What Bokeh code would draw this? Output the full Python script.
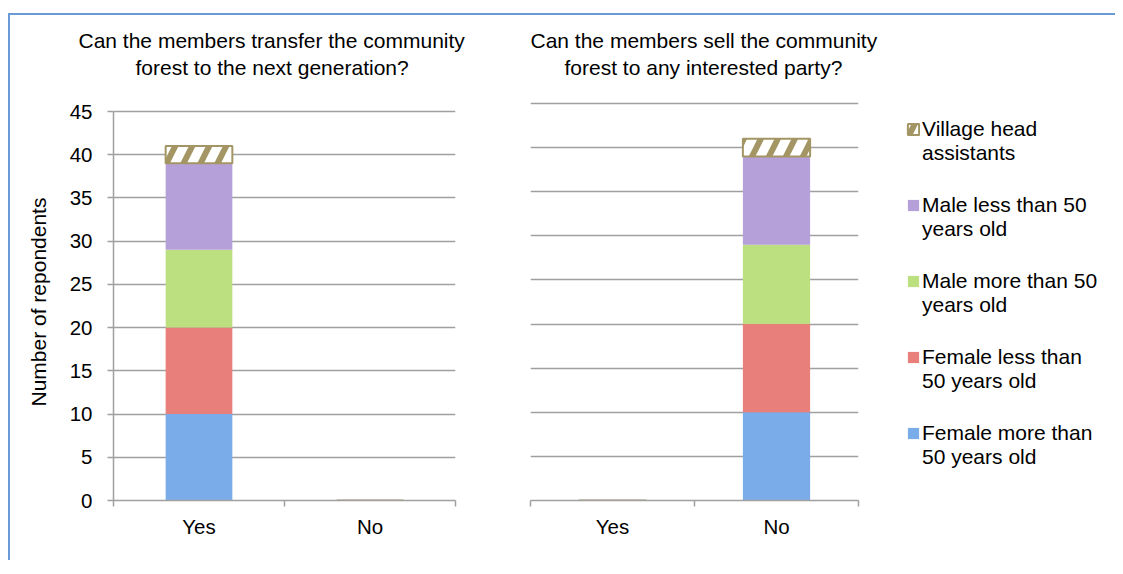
from bokeh.plotting import figure
from bokeh.layouts import row
from bokeh.models import (ColumnDataSource, Range1d, FixedTicker, Legend, LegendItem, Title)
from bokeh.embed import file_html
from bokeh.resources import INLINE

# ---------------- data ----------------
categories = ["Yes", "No"]
groups = ["Female more than 50 years old", "Female less than 50 years old",
          "Male more than 50 years old", "Male less than 50 years old",
          "Village head assistants"]
legend_labels = ["Female more than\n50 years old", "Female less than\n50 years old",
                 "Male more than 50\nyears old", "Male less than 50\nyears old",
                 "Village head\nassistants"]

# Q1: transfer to next generation
q1_female_more = [10, 0]
q1_female_less = [10, 0]
q1_male_more = [9, 0]
q1_male_less = [10, 0]
q1_village_head = [2, 0]

# Q2: sell to any interested party
q2_female_more = [0, 10]
q2_female_less = [0, 10]
q2_male_more = [0, 9]
q2_male_less = [0, 10]
q2_village_head = [0, 2]

title1_lines = ["Can the members transfer the community", "forest to the next generation?"]
title2_lines = ["Can the members sell the community", "forest to any interested party?"]
y_ticks = [0, 5, 10, 15, 20, 25, 30, 35, 40, 45]
y_label = "Number of repondents"

# ---------------- style ----------------
FONT = "Liberation Sans"
GRID = "#a0a0a0"
colors = ["#7aacea", "#e97f7a", "#bcdf7f", "#b6a0da", "white"]
line_colors = [None, None, None, None, "#a39664"]
line_widths = [0, 0, 0, 0, 2]
hatches = [" ", " ", " ", " ", "/"]
HATCH = "#a39664"
HSCALE = 34
HWEIGHT = 6

keys = ["fm", "fl", "mm", "ml", "vh"]

FRAME_PX = 420          # shared frame height (frames in a row are aligned)


def make_fig(values, title_lines, title_offsets, width, mb_left, mb_right, px_45, bar_w, show_y):
    x = [i + 0.5 for i in range(len(categories))]
    data = {"x": x}
    for k, v in zip(keys, values):
        data[k] = v
    src = ColumnDataSource(data)

    y_end = y_ticks[-1] * FRAME_PX / px_45
    p = figure(width=width, height=545, output_backend="svg",
               toolbar_location=None, x_range=Range1d(0, len(categories)),
               y_range=Range1d(0, y_end), min_border_left=mb_left,
               min_border_right=mb_right, min_border_top=65,
               min_border_bottom=60)
    p.outline_line_color = None
    p.title = None

    p.vbar_stack(keys, x="x", width=bar_w, source=src,
                 fill_color=colors, line_color=line_colors, line_width=line_widths,
                 hatch_pattern=hatches, hatch_color=HATCH, hatch_scale=HSCALE,
                 hatch_weight=HWEIGHT)

    # two title lines, added closest-first
    for i, so in ((1, 4), (0, 0)):
        t = Title(text=title_lines[i], align="left", offset=title_offsets[i],
                  text_font=FONT, text_font_size="21px", text_font_style="normal",
                  text_color="black", standoff=so)
        p.add_layout(t, "above")

    # x axis
    xa = p.xaxis[0]
    xa.ticker = FixedTicker(ticks=x, minor_ticks=list(range(len(categories) + 1)))
    xa.major_label_overrides = {xi: c for xi, c in zip(x, categories)}
    xa.major_tick_line_color = None
    xa.minor_tick_line_color = GRID
    xa.minor_tick_line_width = 1.5
    xa.minor_tick_out = 6
    xa.minor_tick_in = 0
    xa.axis_line_color = GRID
    xa.axis_line_width = 1.5
    xa.major_label_text_font = FONT
    xa.major_label_text_font_size = "20.5px"
    xa.major_label_text_color = "black"
    xa.major_label_standoff = 8

    # y axis
    ya = p.yaxis[0]
    ya.ticker = FixedTicker(ticks=y_ticks)
    p.ygrid.grid_line_color = GRID
    p.ygrid.grid_line_width = 1.5
    p.xgrid.visible = False
    if show_y:
        ya.bounds = (y_ticks[0], y_ticks[-1])
        ya.axis_line_color = GRID
        ya.axis_line_width = 1.5
        ya.major_tick_line_color = GRID
        ya.major_tick_line_width = 1.5
        ya.major_tick_out = 6
        ya.major_tick_in = 0
        ya.minor_tick_line_color = None
        ya.major_label_text_font = FONT
        ya.major_label_text_font_size = "20.5px"
        ya.major_label_text_color = "black"
        ya.major_label_standoff = 15
        # axis title, centred on the 0-45 span rather than the whole frame
        yt = Title(text=y_label, align="left", offset=94, text_font=FONT,
                   text_font_size="21px", text_font_style="normal",
                   text_color="black", standoff=30, vertical_align="top")
        p.add_layout(yt, "left")
    else:
        ya.visible = False
    return p


p1 = make_fig([q1_female_more, q1_female_less, q1_male_more, q1_male_less, q1_village_head],
              title1_lines, [-35, 22], 480, 103, 35, 389, 0.39, True)
p2 = make_fig([q2_female_more, q2_female_less, q2_male_more, q2_male_less, q2_village_head],
              title2_lines, [0, 34], 398, 40, 30, 397, 0.41, False)

# legend panel (renderers carry no data, only the series styles)
pl = figure(width=227, height=545, output_backend="svg", toolbar_location=None,
            x_axis_type=None, y_axis_type=None, x_range=Range1d(0, 1), y_range=Range1d(0, 1),
            min_border_left=0, min_border_top=65, min_border_right=0, min_border_bottom=60)
pl.outline_line_color = None
pl.grid.visible = False
rend = []
for i in range(len(groups)):
    src = ColumnDataSource({"x": [float("nan")], "top": [float("nan")]})
    r = pl.vbar(x="x", top="top", width=0.1, source=src, fill_color=colors[i],
                line_color=line_colors[i], line_width=line_widths[i],
                hatch_pattern=hatches[i], hatch_color=HATCH, hatch_scale=HSCALE,
                hatch_weight=HWEIGHT)
    rend.append(r)

items = [LegendItem(label="\n" + lab, renderers=[r]) for lab, r in zip(legend_labels, rend)]
items = items[::-1]
legend = Legend(items=items, location=(18, 31), orientation="vertical",
                glyph_width=14, glyph_height=14, label_standoff=2,
                label_text_font=FONT, label_text_font_size="21px",
                label_text_color="black", label_text_line_height=1.1,
                spacing=4, padding=0, margin=0,
                border_line_color=None, background_fill_alpha=0)
pl.add_layout(legend)

layout = row(p1, p2, pl, styles={"border-left": "2px solid #6a9ad4",
                                 "border-top": "2px solid #6a9ad4",
                                 "margin-top": "13px", "margin-left": "8px"})

open("out.html", "w").write(file_html(layout, INLINE))
